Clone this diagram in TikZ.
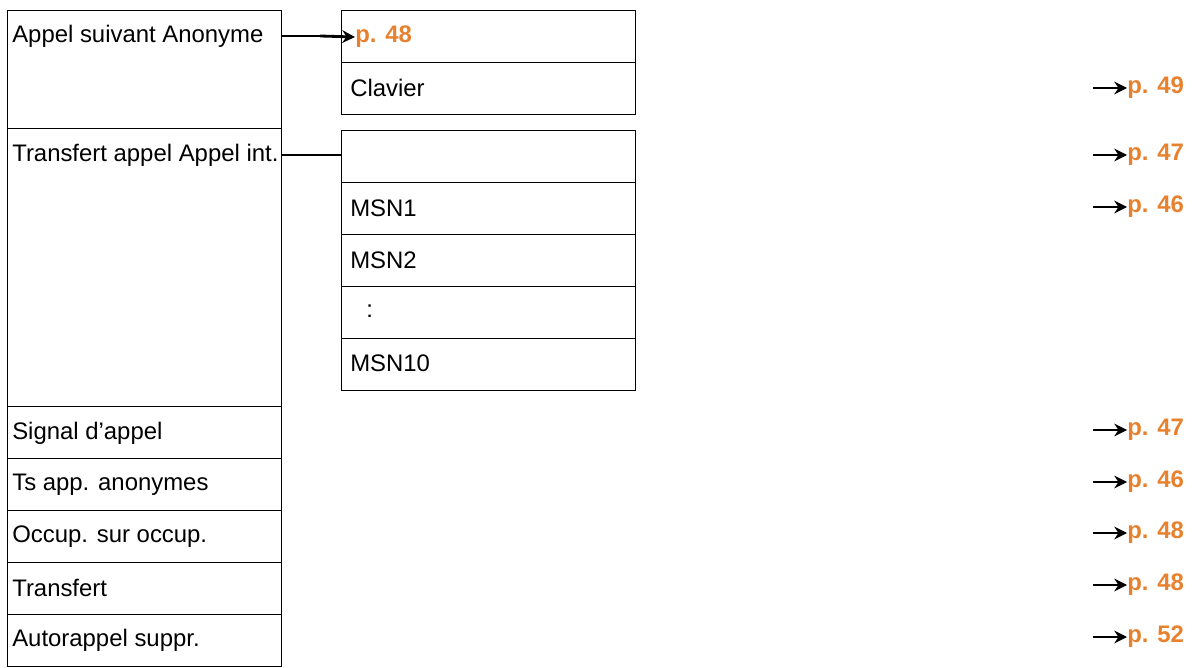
\documentclass[tikz,border=0pt]{standalone}
\usepackage{fontspec}
\setmainfont{Liberation Sans}
\usetikzlibrary{positioning,arrows.meta}
\definecolor{pageorange}{HTML}{E8812E}

\begin{document}
\begin{tikzpicture}[
    x=0.025cm,y=-0.025cm,
    cell/.style={draw,line width=0.9pt,anchor=north west,inner sep=0pt},
    txt/.style={anchor=west,inner sep=0pt,font=\fontsize{17}{20}\selectfont},
    pg/.style={anchor=west,inner sep=0pt,text=pageorange,font=\fontsize{17}{20}\selectfont\bfseries},
    ptr/.style={-{Stealth[length=9pt,width=9pt]},line width=2pt}
  ]
  \useasboundingbox (0,0) rectangle (1201,668);
  % left column
  \node[cell,minimum width=274*0.025cm,minimum height=118*0.025cm] (b1) at (7,10) {};
  \node[cell,minimum width=274*0.025cm,minimum height=278*0.025cm] (b2) at (7,128) {};
  \foreach \i/\y in {3/406,4/458,5/510,6/562,7/614}
    \node[cell,minimum width=274*0.025cm,minimum height=52*0.025cm] (b\i) at (7,\y) {};
  \node[txt] (t1) at (12,36) {Appel suivant Anonyme};
  \node[txt] (t2) at (12,155) {Transfert appel Appel int.};
  \node[txt] (t3) at (12,433) {Signal d'appel};
  \node[txt] (t4) at (12,485) {Ts app. anonymes};
  \node[txt] (t5) at (12,537) {Occup. sur occup.};
  \node[txt] (t6) at (12,588) {Transfert};
  \node[txt] (t7) at (12,640) {Autorappel suppr.};
  % right column
  \foreach \i/\y in {1/10,2/62,3/130,4/182,5/234,6/286,7/338}
    \node[cell,minimum width=294*0.025cm,minimum height=52*0.025cm] (r\i) at (341,\y) {};
  \node[pg] (s1) at (355,37) {p. 48};
  \node[txt] (s2) at (350,88) {Clavier};
  \node[txt] (s4) at (350,208) {MSN1};
  \node[txt] (s5) at (350,260) {MSN2};
  \node[txt] (s6) at (366,311) {:};
  \node[txt] (s7) at (350,363) {MSN10};
  % connectors
  \coordinate (c1) at (281,36);
  \coordinate (c2) at (281,155);
  \draw[line width=0.9pt] (c1) -- (320,36);
  \draw[ptr] (320,36) -- (s1.west);
  \draw[line width=0.9pt] (c2) -- (r3.west |- c2);
  % page references
  \foreach \n/\y/\p in {a/88/49,b/155/47,c/207/46,d/430/47,e/482/46,f/533/48,g/585/48,h/637/52}{
    \node[pg] (p\n) at (1127,\y) {p. \p};
    \coordinate (q\n) at (1093,\y);
    \draw[ptr] (q\n) -- (p\n.west);
  }
\end{tikzpicture}
\end{document}
